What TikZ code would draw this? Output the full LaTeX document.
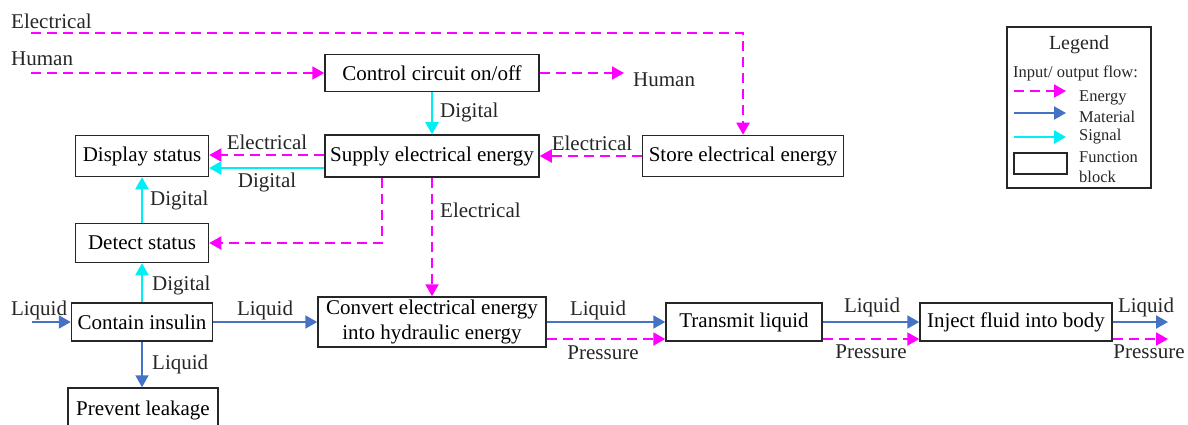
\documentclass[tikz,border=0pt]{standalone}
\usepackage{fontspec}
\setmainfont{Liberation Serif}
\newfontfamily\tnr{Liberation Serif}
\usetikzlibrary{arrows.meta}
\definecolor{emag}{RGB}{255,0,255}
\definecolor{mblue}{RGB}{68,114,196}
\definecolor{scyan}{RGB}{0,238,245}
\tikzset{
  fbox/.style={draw=black!85, line width=1.5pt, rectangle, inner sep=0pt, align=center, fill=white},
  tip/.style={-{Triangle[length=12pt,width=13pt]}},
  energy/.style={tip, draw=emag, color=emag, line width=2pt, dash pattern=on 10pt off 6pt},
  material/.style={tip, draw=mblue, color=mblue, line width=2pt},
  signal/.style={tip, draw=scyan, color=scyan, line width=2.5pt},
  lbl/.style={inner sep=0pt, text=black!85},
  leg/.style={inner sep=0pt, text=black!85, font=\tnr\fontsize{16.5pt}{19pt}\selectfont},
}
\begin{document}
\begin{tikzpicture}[x=1pt, y=-1pt, font=\tnr\fontsize{21pt}{25pt}\selectfont]
\useasboundingbox (0,0) rectangle (1188,425);
\clip (0,0) rectangle (1188,425);

% function blocks
\node[fbox, minimum width=214pt, minimum height=37pt] (ctrl) at (432,73) {Control circuit on/off};
\node[fbox, minimum width=214pt, minimum height=42pt] (supply) at (432,156) {Supply electrical energy};
\node[fbox, minimum width=201pt, minimum height=41pt] (store) at (743,156) {Store electrical energy};
\node[fbox, minimum width=133pt, minimum height=41pt] (display) at (142,156) {Display status};
\node[fbox, minimum width=133pt, minimum height=39pt] (detect) at (142,243) {Detect status};
\node[fbox, minimum width=141pt, minimum height=38pt] (contain) at (142,322) {Contain insulin};
\node[fbox, minimum width=150pt, minimum height=44pt] (prevent) at (143,410) {Prevent leakage};
\node[fbox, minimum width=228pt, minimum height=50pt] (convert) at (432,322) {Convert electrical energy\\into hydraulic energy};
\node[fbox, minimum width=156pt, minimum height=38pt] (transmit) at (744,322) {Transmit liquid};
\node[fbox, minimum width=192pt, minimum height=38pt] (inject) at (1016,322) {Inject fluid into body};

% free ends
\coordinate (eIn) at (31,33);
\coordinate (hIn) at (31,73);
\coordinate (hOut) at (624,73);
\coordinate (lIn) at (32,322);
\coordinate (lOut) at (1168,322);
\coordinate (pOut) at (1168,339);

% energy flows
\draw[energy] (eIn) -- (eIn -| store.north) -- (store.north);
\node[lbl, anchor=west] (tE) at (11,21) {Electrical};
\draw[energy] (hIn) -- (ctrl.west);
\node[lbl, anchor=west] (tH) at (11,59) {Human};
\draw[energy] (ctrl.east) -- (hOut);
\node[lbl, anchor=west] (tH2) at (633,80) {Human};
\draw[energy] (store.west) -- (store.west -| supply.east);
\node[lbl] (tE2) at (592,143) {Electrical};
\coordinate (s1) at ([yshift=1pt]supply.west);
\draw[energy] (s1) -- (s1 -| display.east);
\node[lbl] (tE3) at (267,142) {Electrical};
\draw[energy] ([xshift=-50pt]supply.south) |- (detect.east);
\draw[energy] (supply.south) -- (convert.north);
\node[lbl, anchor=west] (tE4) at (440,210) {Electrical};

% signal flows
\draw[signal] (ctrl.south) -- (supply.north);
\node[lbl, anchor=west] (tD1) at (440,112) {Digital};
\coordinate (s2) at ([yshift=-12pt]supply.west);
\draw[signal] (s2) -- (s2 -| display.east);
\node[lbl] (tD2) at (267,182) {Digital};
\draw[signal] (detect.north) -- (display.south);
\node[lbl, anchor=west] (tD3) at (150,200) {Digital};
\draw[signal] (contain.north) -- (detect.south);
\node[lbl, anchor=west] (tD4) at (152,285) {Digital};

% material flows
\draw[material] (lIn) -- (contain.west);
\node[lbl] (tL1) at (39,310) {Liquid};
\draw[material] (contain.south) -- (contain.south |- prevent.north);
\node[lbl, anchor=west] (tL2) at (152,364) {Liquid};
\draw[material] (contain.east) -- (convert.west);
\node[lbl] (tL3) at (265,310) {Liquid};
\draw[material] (convert.east) -- (transmit.west);
\node[lbl] (tL4) at (598,310) {Liquid};
\draw[material] (transmit.east) -- (inject.west);
\node[lbl] (tL5) at (872,307) {Liquid};
\draw[material] (inject.east) -- (lOut);
\node[lbl] (tL6) at (1146,307) {Liquid};

% pressure flows
\coordinate (p1) at ([yshift=-17pt]convert.east);
\draw[energy] (p1) -- (p1 -| transmit.west);
\node[lbl] (tP1) at (603,353) {Pressure};
\coordinate (p2) at ([yshift=-17pt]transmit.east);
\draw[energy] (p2) -- (p2 -| inject.west);
\node[lbl] (tP2) at (871,352) {Pressure};
\coordinate (p3) at ([yshift=-17pt]inject.east);
\draw[energy] (p3) -- (pOut);
\node[lbl] (tP3) at (1149,352) {Pressure};

% legend
\node[fbox, minimum width=144pt, minimum height=161pt] (legend) at (1079,107.5) {};
\node[leg, font=\tnr\fontsize{20pt}{23pt}\selectfont] (legT) at (1079,45) {Legend};
\node[leg, anchor=west] (legIO) at (1013,73) {Input/ output flow:};
\coordinate (la1) at (1014,91);  \coordinate (lb1) at (1066,91);
\coordinate (la2) at (1014,113); \coordinate (lb2) at (1066,113);
\coordinate (la3) at (1014,137); \coordinate (lb3) at (1066,137);
\draw[energy] (la1) -- (lb1);
\draw[material] (la2) -- (lb2);
\draw[signal] (la3) -- (lb3);
\node[leg, anchor=west] (legE) at (1079,98) {Energy};
\node[leg, anchor=west] (legM) at (1079,117) {Material};
\node[leg, anchor=west] (legS) at (1079,137) {Signal};
\node[fbox, minimum width=53pt, minimum height=21pt] (legB) at (1040.5,163.5) {};
\node[leg, anchor=west] (legF) at (1079,157) {Function};
\node[leg, anchor=west] (legBl) at (1079,177) {block};
\end{tikzpicture}
\end{document}
